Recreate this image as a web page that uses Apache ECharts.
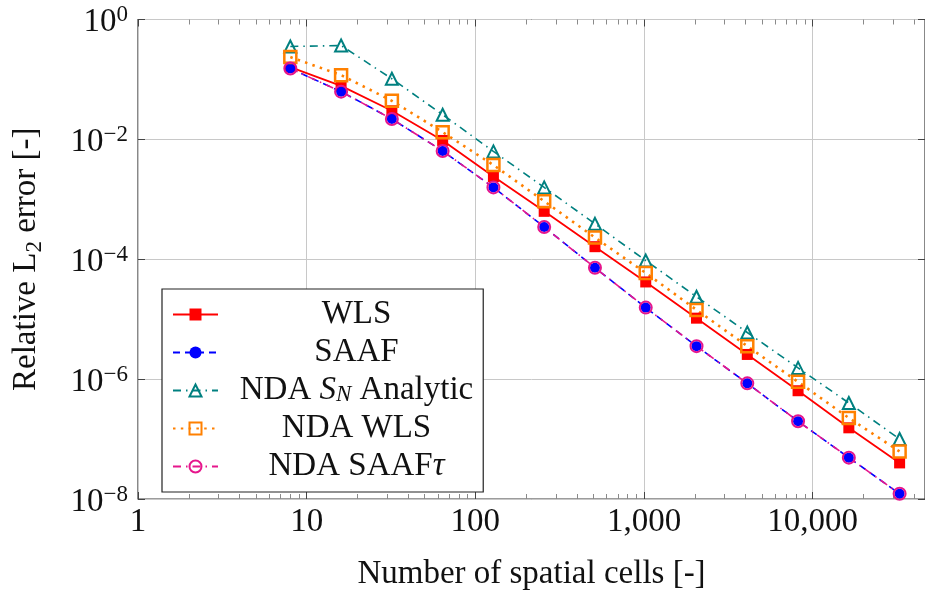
<!DOCTYPE html>
<html>
<head>
<meta charset="utf-8">
<script src="https://cdn.jsdelivr.net/npm/echarts@6/dist/echarts.min.js"></script>
<style>
  html, body { margin: 0; padding: 0; background: #ffffff; }
  #chart { width: 925px; height: 596px; }
</style>
</head>
<body>
<div id="chart"></div>
<script>
// Number of spatial cells for each refinement level
const cells = [8, 16, 32, 64, 128, 256, 512, 1024, 2048, 4096, 8192, 16384, 32768];

// Relative L2 error per method
const wls        = [0.16, 0.078, 0.030, 0.0096, 0.0024, 6.3e-4, 1.62e-4, 4.18e-5, 1.04e-5, 2.58e-6, 6.4e-7, 1.54e-7, 4.0e-8];
const saaf       = [0.152, 0.0626, 0.0219, 0.0064, 0.00158, 3.45e-4, 7.2e-5, 1.56e-5, 3.55e-6, 8.5e-7, 1.98e-7, 4.9e-8, 1.22e-8];
const ndaSn      = [0.355, 0.368, 0.1026, 0.0258, 0.0063, 1.58e-3, 3.9e-4, 9.5e-5, 2.37e-5, 6.0e-6, 1.54e-6, 4.0e-7, 1.0e-7];
const ndaWls     = [0.236, 0.118, 0.044, 0.0132, 0.00373, 9.3e-4, 2.3e-4, 5.9e-5, 1.43e-5, 3.55e-6, 9.0e-7, 2.25e-7, 6.2e-8];
const ndaSaafTau = [0.152, 0.0626, 0.0219, 0.0064, 0.00158, 3.45e-4, 7.2e-5, 1.56e-5, 3.55e-6, 8.5e-7, 1.98e-7, 4.9e-8, 1.22e-8];

// Axis ticks
const xMajorTicks = [1, 10, 100, 1000, 10000];
const xMinorTicks = [2, 3, 4, 5, 6, 7, 8, 9,
                     20, 30, 40, 50, 60, 70, 80, 90,
                     200, 300, 400, 500, 600, 700, 800, 900,
                     2000, 3000, 4000, 5000, 6000, 7000, 8000, 9000,
                     20000, 30000, 40000];
const yMajorTicks = [1e-8, 1e-6, 1e-4, 1e-2, 1];
const xMin = 1, xMax = 46341, yMin = 1e-8, yMax = 1;

const FONT = 'Liberation Serif';
const BASE = 33;
const SMALL = 23;

const pairs = ys => cells.map((c, i) => [c, ys[i]]);

const legendLabels = {
  'WLS': '{t|WLS}',
  'SAAF': '{t|SAAF}',
  'NDA SN Analytic': '{t|NDA }{i|S}{sb|N}{t| Analytic}',
  'NDA WLS': '{t|NDA WLS}',
  'NDA SAAFτ': '{t|NDA SAAF}{i|τ}'
};

const commonLog = { type: 'log', logBase: 10, min: xMin, max: xMax };

function makeSeries(name, data, color, symbol, size, filled, lineStyle, borderWidth) {
  return {
    name: name,
    type: 'line',
    data: pairs(data),
    symbol: symbol,
    symbolSize: size,
    showAllSymbol: true,
    animation: false,
    emphasis: { disabled: true },
    lineStyle: Object.assign({ color: color }, lineStyle),
    itemStyle: filled
      ? { color: color, borderWidth: 0 }
      : { color: 'rgba(255,255,255,0)', borderColor: color, borderWidth: borderWidth }
  };
}

const chart = echarts.init(document.getElementById('chart'), null, { renderer: 'canvas' });

chart.setOption({
  animation: false,
  backgroundColor: '#ffffff',
  textStyle: { fontFamily: FONT },
  grid: {
    left: 138, top: 16, right: -3, bottom: 95,
    show: true, borderColor: '#3a3a3a', borderWidth: 1.2, backgroundColor: 'transparent',
    containLabel: false
  },
  legend: {
    left: 162, top: 289,
    orient: 'vertical',
    selectedMode: false,
    backgroundColor: '#ffffff',
    borderColor: '#222222', borderWidth: 1.2,
    padding: [9, 10, 9, 10],
    itemWidth: 45, itemHeight: 15, itemGap: 5,
    formatter: name => legendLabels[name],
    textStyle: {
      width: 267,
      fontFamily: FONT,
      rich: {
        t: { fontFamily: FONT, fontSize: BASE, lineHeight: 31, color: '#111', align: 'center' },
        i: { fontFamily: FONT, fontSize: BASE, lineHeight: 31, fontStyle: 'italic', color: '#111', align: 'center' },
        sb: { fontFamily: FONT, fontSize: SMALL, lineHeight: 22, fontStyle: 'italic', color: '#111', align: 'center', verticalAlign: 'bottom' }
      }
    },
    data: ['WLS', 'SAAF', 'NDA SN Analytic', 'NDA WLS', 'NDA SAAFτ']
  },
  xAxis: [
    Object.assign({}, commonLog, {
      position: 'bottom',
      name: 'Number of spatial cells [-]',
      nameLocation: 'middle',
      nameGap: 59,
      nameTextStyle: { fontFamily: FONT, fontSize: BASE, color: '#111' },
      axisLine: { show: false },
      axisTick: { show: true, inside: true, length: 7, customValues: xMajorTicks, lineStyle: { color: '#444', width: 1 } },
      axisLabel: {
        show: true, margin: 7, customValues: xMajorTicks,
        fontFamily: FONT, fontSize: BASE, color: '#111',
        formatter: v => Math.round(v).toLocaleString('en-US')
      },
      splitLine: { show: true, lineStyle: { color: '#c8c8c8', width: 1 } }
    }),
    Object.assign({}, commonLog, {
      position: 'bottom',
      axisLine: { show: false },
      axisTick: { show: true, inside: true, length: 5, customValues: xMinorTicks, lineStyle: { color: '#8a8a8a', width: 1 } },
      axisLabel: { show: false },
      splitLine: { show: false }
    }),
    Object.assign({}, commonLog, {
      position: 'top',
      axisLine: { show: false },
      axisTick: { show: true, inside: true, length: 7, customValues: xMajorTicks, lineStyle: { color: '#444', width: 1 } },
      axisLabel: { show: false },
      splitLine: { show: false }
    }),
    Object.assign({}, commonLog, {
      position: 'top',
      axisLine: { show: false },
      axisTick: { show: true, inside: true, length: 5, customValues: xMinorTicks, lineStyle: { color: '#8a8a8a', width: 1 } },
      axisLabel: { show: false },
      splitLine: { show: false }
    })
  ],
  yAxis: [
    {
      type: 'log', logBase: 10, min: yMin, max: yMax,
      position: 'left',
      name: '{a|Relative L}{s|2}{a| error [-]}',
      nameLocation: 'middle',
      nameGap: 96,
      nameRotate: 90,
      nameTextStyle: {
        fontFamily: FONT,
        rich: {
          a: { fontFamily: FONT, fontSize: BASE, lineHeight: 32, color: '#111' },
          s: { fontFamily: FONT, fontSize: SMALL, lineHeight: 22, color: '#111', verticalAlign: 'bottom', padding: [0, 0, -4, 0] }
        }
      },
      axisLine: { show: false },
      axisTick: { show: true, inside: true, length: 7, customValues: yMajorTicks, lineStyle: { color: '#444', width: 1 } },
      axisLabel: {
        show: true, margin: 10, customValues: yMajorTicks,
        formatter: v => {
          const e = Math.round(Math.log10(v));
          return '{b|10}{s|' + (e < 0 ? '\u2212' + (-e) : String(e)) + '}';
        },
        rich: {
          b: { fontFamily: FONT, fontSize: BASE, lineHeight: 32, color: '#111', padding: [6, 0, 0, 0] },
          s: { fontFamily: FONT, fontSize: SMALL, lineHeight: 22, color: '#111', verticalAlign: 'top' }
        }
      },
      splitLine: { show: true, lineStyle: { color: '#c8c8c8', width: 1 } }
    },
    {
      type: 'log', logBase: 10, min: yMin, max: yMax,
      position: 'right',
      axisLine: { show: false },
      axisTick: { show: true, inside: true, length: 7, customValues: yMajorTicks, lineStyle: { color: '#444', width: 1 } },
      axisLabel: { show: false },
      splitLine: { show: false }
    }
  ],
  series: [
    makeSeries('WLS', wls, '#ff0000', 'rect', 11, true, { width: 1.8, type: 'solid' }),
    makeSeries('SAAF', saaf, '#0000ff', 'circle', 10, true, { width: 1.6, type: [7, 5] }),
    makeSeries('NDA SN Analytic', ndaSn, '#008080', 'triangle', 12, false, { width: 1.6, type: [8, 5, 1.5, 5] }, 2),
    makeSeries('NDA WLS', ndaWls, '#ff8000', 'rect', 12, false, { width: 2.6, type: [2.5, 5.3] }, 2.5),
    makeSeries('NDA SAAFτ', ndaSaafTau, '#e6168c', 'circle', 12, false, { width: 1.6, type: [8, 5, 1.5, 5] }, 2)
  ]
});
</script>
</body>
</html>
